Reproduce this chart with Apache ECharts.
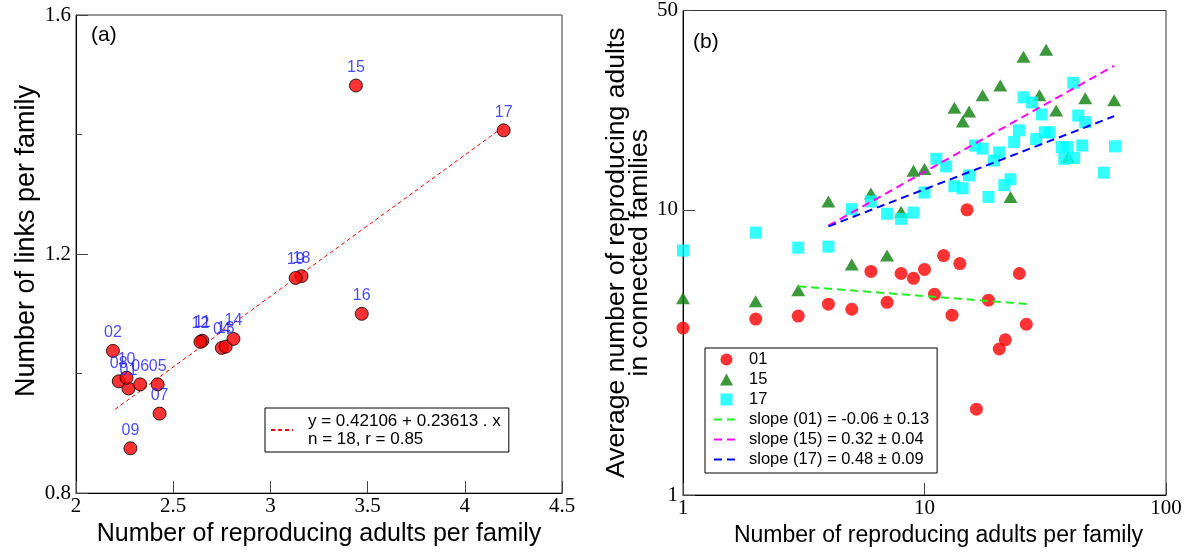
<!DOCTYPE html>
<html>
<head>
<meta charset="utf-8">
<script src="https://cdn.jsdelivr.net/npm/echarts@6/dist/echarts.min.js"></script>
<style>
html, body { margin: 0; padding: 0; background: #fff; }
#main { width: 1198px; height: 552px; }
</style>
</head>
<body>
<div id="main"></div>
<script>
// panel (a): family id, reproducing adults, links per family
var familyIds = ['01', '02', '04', '05', '06', '07', '08', '09', '10', '11', '12', '13', '14', '15', '16', '17', '18', '19'];
var adultsA = [2.27, 2.19, 2.75, 2.42, 2.33, 2.43, 2.22, 2.28, 2.26, 2.65, 2.64, 2.77, 2.81, 3.44, 3.47, 4.20, 3.16, 3.13];
var linksA = [0.975, 1.038, 1.043, 0.982, 0.982, 0.933, 0.987, 0.875, 0.993, 1.055, 1.053, 1.045, 1.058, 1.482, 1.100, 1.407, 1.163, 1.160];
var fitA = [[2.2, 0.940], [4.2, 1.413]];
var fitAName = 'y = 0.42106 + 0.23613 . x';
var fitAStats = 'n = 18, r = 0.85';

// panel (b): reproducing adults vs average in connected families
var x01 = [1, 2, 3, 4, 5, 6, 7, 8, 9, 10, 11, 12, 13, 14, 15, 16.4, 18.4, 20.4, 21.6, 24.7, 26.4];
var y01 = [3.85, 4.14, 4.24, 4.67, 4.48, 6.08, 4.74, 5.98, 5.75, 6.18, 5.06, 6.91, 4.27, 6.48, 10, 2.0, 4.82, 3.25, 3.5, 5.98, 3.97];
var x15 = [1, 2, 3, 4, 5, 6, 7, 8, 9, 10, 13.3, 14.4, 15.3, 17.4, 20.6, 22.7, 25.7, 29.9, 31.9, 35.1, 39.4, 46.3, 61];
var y15 = [4.9, 4.78, 5.22, 10.7, 6.43, 11.4, 6.91, 9.84, 13.7, 13.9, 22.8, 20.4, 22.1, 25.2, 27.3, 11.1, 34.4, 25.2, 36.4, 22.3, 15.3, 24.6, 24.2];
var x17 = [1, 2, 3, 4, 5, 6, 7, 8, 9, 10, 11.2, 12.3, 13.3, 14.4, 15.3, 16.2, 17.4, 18.4, 19.4, 20.4, 21.4, 22.7, 23.5, 24.6, 25.7, 27.9, 29, 30.6, 31.5, 33, 37, 39, 37.9, 41.7, 41.3, 43.3, 46.3, 45, 61.5, 55.3];
var y17 = [7.2, 8.32, 7.37, 7.43, 10.05, 10.7, 9.69, 9.3, 9.78, 11.5, 15.1, 14.2, 12.1, 11.9, 13.2, 16.8, 16.4, 11.1, 14.9, 15.9, 12.2, 12.8, 17.3, 19.0, 24.8, 23.8, 17.7, 21.6, 18.7, 18.7, 16.6, 16.6, 15.1, 15.2, 27.9, 21.4, 20.3, 16.8, 16.7, 13.5];
var fit01 = [[3, 5.39], [27, 4.67]];
var fit15 = [[4, 8.8], [61, 32]];
var fit17 = [[4, 8.75], [61, 21.3]];
var slopeNames = ['slope (01) = -0.06 \u00b1 0.13', 'slope (15) = 0.32 \u00b1 0.04', 'slope (17) = 0.48 \u00b1 0.09'];

function pairs(xs, ys) {
    return xs.map(function (x, i) { return [x, ys[i]]; });
}
// legend entry for a fit line: hide the dot ECharts puts on line icons
function lineEntry(name) {
    return { name: name, itemStyle: { opacity: 0 } };
}

var serif = 'Liberation Serif';
var sans = 'Liberation Sans';

var myChart = echarts.init(document.getElementById('main'));

var tickLabel = { fontFamily: serif, fontSize: 21, color: '#000' };
var plainTitle = { fontFamily: sans, fontSize: 21, fontWeight: 'normal', color: '#000' };

var option = {
    animation: false,
    backgroundColor: '#fff',
    title: [
        { text: '(a)', left: 91, top: 25, padding: 0, textStyle: plainTitle },
        { text: '(b)', left: 693, top: 32, padding: 0, textStyle: plainTitle }
    ],
    grid: [
        { left: 76, top: 15, width: 486, height: 480, show: true, borderColor: '#333', borderWidth: 1 },
        { left: 683, top: 10, width: 483, height: 485, show: true, borderColor: '#333', borderWidth: 1 }
    ],
    legend: [
        {
            left: 265, top: 408, width: 240,
            padding: [4, 8, 4, 5],
            borderColor: '#000', borderWidth: 1, backgroundColor: '#fff',
            itemWidth: 22, itemHeight: 10,
            data: [lineEntry(fitAName)],
            formatter: function (name) { return name + '\n' + fitAStats; },
            textStyle: { fontFamily: sans, fontSize: 17, color: '#000', lineHeight: 18, padding: [0, 0, 0, 10] }
        },
        {
            left: 705, top: 348, orient: 'vertical',
            padding: [3, 8, 5, 8],
            borderColor: '#000', borderWidth: 1, backgroundColor: '#fff',
            itemWidth: 25, itemHeight: 12, itemGap: 3,
            symbolKeepAspect: true,
            data: [
                { name: '01', icon: 'circle' },
                { name: '15', icon: 'path://M6,0L12,11L0,11Z' },
                { name: '17', icon: 'path://M0,0H11V11H0Z' }
            ].concat(slopeNames.map(lineEntry)),
            textStyle: { fontFamily: sans, fontSize: 16.5, color: '#000', padding: [0, 0, 0, 5] }
        }
    ],
    xAxis: [
        {
            gridIndex: 0, type: 'value', min: 2, max: 4.5, interval: 0.5,
            name: 'Number of reproducing adults per family', nameLocation: 'middle', nameGap: 27,
            nameTextStyle: { fontFamily: sans, fontSize: 25, color: '#000' },
            axisLine: { lineStyle: { color: '#000' } },
            axisTick: { inside: true, length: 12, lineStyle: { color: '#444' } },
            axisLabel: Object.assign({ margin: 3 }, tickLabel),
            splitLine: { show: false }
        },
        {
            gridIndex: 1, type: 'log', logBase: 10, min: 1, max: 100,
            name: 'Number of reproducing adults per family', nameLocation: 'middle', nameGap: 27,
            nameTextStyle: { fontFamily: sans, fontSize: 23, color: '#000', padding: [0, 0, 0, 28] },
            axisLine: { lineStyle: { color: '#000' } },
            axisTick: { inside: true, length: 12, lineStyle: { color: '#444' } },
            axisLabel: Object.assign({ margin: 3 }, tickLabel),
            minorTick: { show: false },
            splitLine: { show: false }
        }
    ],
    yAxis: [
        {
            gridIndex: 0, type: 'value', min: 0.8, max: 1.6, interval: 0.4,
            name: 'Number of links per family', nameLocation: 'middle', nameGap: 36,
            nameTextStyle: { fontFamily: sans, fontSize: 27, color: '#000', padding: [0, 0, 0, 26] },
            axisLine: { lineStyle: { color: '#000' } },
            axisTick: { inside: true, length: 12, lineStyle: { color: '#444' } },
            minorTick: { show: true, splitNumber: 2, length: 6, lineStyle: { color: '#444' } },
            axisLabel: Object.assign({ margin: 5 }, tickLabel),
            splitLine: { show: false }
        },
        {
            gridIndex: 1, type: 'log', logBase: 10, min: 1, max: 50,
            name: 'Average number of reproducing adults\nin connected families', nameLocation: 'middle', nameGap: 31,
            nameTextStyle: { fontFamily: sans, fontSize: 26.5, color: '#000', lineHeight: 23 },
            axisLine: { lineStyle: { color: '#000' } },
            axisTick: { inside: true, length: 12, lineStyle: { color: '#444' } },
            axisLabel: Object.assign({ margin: 5 }, tickLabel),
            minorTick: { show: false },
            splitLine: { show: false }
        }
    ],
    series: [
        {
            name: fitAName, type: 'line', xAxisIndex: 0, yAxisIndex: 0,
            data: fitA, symbol: 'none', z: 1,
            lineStyle: { color: '#ff0000', width: 1, type: [4, 3] },
            itemStyle: { color: '#ff0000' }
        },
        {
            name: 'families', type: 'scatter', xAxisIndex: 0, yAxisIndex: 0, z: 3,
            data: familyIds.map(function (id, i) { return { name: id, value: [adultsA[i], linksA[i]] }; }),
            symbol: 'circle', symbolSize: 13,
            itemStyle: { color: '#ff0000', borderColor: '#000', borderWidth: 1 },
            label: {
                show: true, position: 'top', distance: 3,
                formatter: function (p) { return p.name; },
                fontFamily: sans, fontSize: 16, color: '#1a1aff'
            }
        },
        {
            name: '15', type: 'scatter', xAxisIndex: 1, yAxisIndex: 1, z: 2,
            data: pairs(x15, y15), symbol: 'triangle', symbolSize: [14, 12],
            itemStyle: { color: '#0a800a' }
        },
        {
            name: '17', type: 'scatter', xAxisIndex: 1, yAxisIndex: 1, z: 3,
            data: pairs(x17, y17), symbol: 'rect', symbolSize: 12,
            itemStyle: { color: '#00ffff' }
        },
        {
            name: '01', type: 'scatter', xAxisIndex: 1, yAxisIndex: 1, z: 4,
            data: pairs(x01, y01), symbol: 'circle', symbolSize: 13,
            itemStyle: { color: '#ff0000' }
        },
        {
            name: slopeNames[0], type: 'line', xAxisIndex: 1, yAxisIndex: 1, z: 5,
            data: fit01, symbol: 'none',
            lineStyle: { color: '#22ee22', width: 2, type: [8, 5] },
            itemStyle: { color: '#22ee22' }
        },
        {
            name: slopeNames[1], type: 'line', xAxisIndex: 1, yAxisIndex: 1, z: 5,
            data: fit15, symbol: 'none',
            lineStyle: { color: '#ff00ff', width: 2, type: [8, 5] },
            itemStyle: { color: '#ff00ff' }
        },
        {
            name: slopeNames[2], type: 'line', xAxisIndex: 1, yAxisIndex: 1, z: 5,
            data: fit17, symbol: 'none',
            lineStyle: { color: '#0000ff', width: 2, type: [8, 5] },
            itemStyle: { color: '#0000ff' }
        }
    ]
};

myChart.setOption(option);
</script>
</body>
</html>
